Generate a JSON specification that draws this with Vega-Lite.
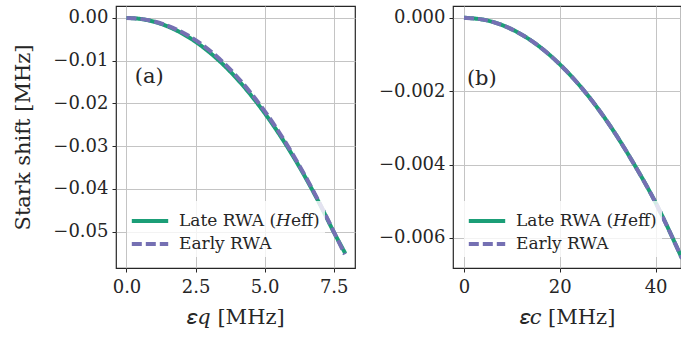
{
  "$schema": "https://vega.github.io/schema/vega-lite/v6.json",
  "padding": {"left": 12, "top": 5, "right": 0, "bottom": 0},
  "background": "white",
  "config": {
    "font": "DejaVu Serif",
    "view": {"stroke": "#262626", "strokeWidth": 1.2},
    "axis": {
      "grid": true, "gridColor": "#c4c4c4", "gridWidth": 1,
      "labelFont": "DejaVu Serif", "labelFontSize": 18, "labelColor": "#262626",
      "titleFont": "DejaVu Serif", "titleFontSize": 21, "titleFontWeight": "normal", "titleColor": "#262626",
      "tickColor": "#262626", "tickSize": 4, "domain": false, "labelPadding": 4
    },
    "axisX": {"titlePadding": 10, "labelPadding": 6},
    "axisY": {"titlePadding": 19},
    "legend": {
      "labelFont": "DejaVu Serif", "labelFontSize": 17, "labelColor": "#262626",
      "symbolType": "M-1.4,0H1.4", "symbolStrokeWidth": 4, "symbolSize": 676, "symbolOffset": 3,
      "fillColor": "rgba(255,255,255,0.8)", "padding": 5, "rowPadding": 0,
      "labelOffset": 14, "title": null
    }
  },
  "spacing": 21,
  "resolve": {"legend": {"color": "independent", "strokeDash": "independent"}},
  "hconcat": [
    {
      "width": 239, "height": 262,
      "data": {"values": [
        {"x": 0, "y": 0, "s": "Late RWA (𝐻eff)"},
        {"x": 0.5, "y": -0.00022, "s": "Late RWA (𝐻eff)"},
        {"x": 1, "y": -0.00089, "s": "Late RWA (𝐻eff)"},
        {"x": 1.5, "y": -0.002, "s": "Late RWA (𝐻eff)"},
        {"x": 2, "y": -0.00356, "s": "Late RWA (𝐻eff)"},
        {"x": 2.5, "y": -0.00556, "s": "Late RWA (𝐻eff)"},
        {"x": 3, "y": -0.00801, "s": "Late RWA (𝐻eff)"},
        {"x": 3.5, "y": -0.0109, "s": "Late RWA (𝐻eff)"},
        {"x": 4, "y": -0.01424, "s": "Late RWA (𝐻eff)"},
        {"x": 4.5, "y": -0.01802, "s": "Late RWA (𝐻eff)"},
        {"x": 5, "y": -0.02225, "s": "Late RWA (𝐻eff)"},
        {"x": 5.5, "y": -0.02692, "s": "Late RWA (𝐻eff)"},
        {"x": 6, "y": -0.03204, "s": "Late RWA (𝐻eff)"},
        {"x": 6.5, "y": -0.0376, "s": "Late RWA (𝐻eff)"},
        {"x": 7, "y": -0.04361, "s": "Late RWA (𝐻eff)"},
        {"x": 7.5, "y": -0.05006, "s": "Late RWA (𝐻eff)"},
        {"x": 7.92, "y": -0.0551, "s": "Late RWA (𝐻eff)"},
        {"x": 0, "y": 0, "s": "Early RWA"},
        {"x": 0.5, "y": -0.00021, "s": "Early RWA"},
        {"x": 1, "y": -0.00082, "s": "Early RWA"},
        {"x": 1.5, "y": -0.00185, "s": "Early RWA"},
        {"x": 2, "y": -0.0033, "s": "Early RWA"},
        {"x": 2.5, "y": -0.00518, "s": "Early RWA"},
        {"x": 3, "y": -0.00755, "s": "Early RWA"},
        {"x": 3.5, "y": -0.0104, "s": "Early RWA"},
        {"x": 4, "y": -0.01375, "s": "Early RWA"},
        {"x": 4.5, "y": -0.01755, "s": "Early RWA"},
        {"x": 5, "y": -0.0218, "s": "Early RWA"},
        {"x": 5.5, "y": -0.0265, "s": "Early RWA"},
        {"x": 6, "y": -0.0317, "s": "Early RWA"},
        {"x": 6.5, "y": -0.03735, "s": "Early RWA"},
        {"x": 7, "y": -0.04345, "s": "Early RWA"},
        {"x": 7.5, "y": -0.05, "s": "Early RWA"},
        {"x": 7.9, "y": -0.0553, "s": "Early RWA"}
      ]},
      "layer": [
        {
          "mark": {"type": "line", "strokeWidth": 4, "clip": true, "interpolate": "monotone"},
          "encoding": {
            "x": {"field": "x", "type": "quantitative", "title": "𝜀𝑞 [MHz]",
                  "scale": {"domain": [-0.38, 8.27], "nice": false, "zero": false},
                  "axis": {"values": [0, 2.5, 5, 7.5], "format": ".1f"}},
            "y": {"field": "y", "type": "quantitative", "title": "Stark shift [MHz]",
                  "scale": {"domain": [-0.0585, 0.0028], "nice": false, "zero": false},
                  "axis": {"values": [0, -0.01, -0.02, -0.03, -0.04, -0.05], "format": ".2f"}},
            "color": {"field": "s", "type": "nominal",
                      "scale": {"domain": ["Late RWA (𝐻eff)", "Early RWA"], "range": ["#1b9e77", "#7570b3"]},
                      "legend": {"orient": "bottom-left", "offset": 11}},
            "strokeDash": {"field": "s", "type": "nominal",
                      "scale": {"domain": ["Late RWA (𝐻eff)", "Early RWA"], "range": [[1, 0], [10, 4]]},
                      "legend": {"orient": "bottom-left", "offset": 11}},
            "order": {"field": "x", "type": "quantitative"}
          }
        },
        {
          "data": {"values": [{"x": 0.3, "y": -0.0137, "t": "(a)"}]},
          "mark": {"type": "text", "align": "left", "baseline": "middle", "fontSize": 21, "font": "DejaVu Serif", "color": "#262626"},
          "encoding": {
            "x": {"field": "x", "type": "quantitative"},
            "y": {"field": "y", "type": "quantitative"},
            "text": {"field": "t"}
          }
        }
      ]
    },
    {
      "width": 228, "height": 262,
      "data": {"values": [
        {"x": 0, "y": 0, "s": "Late RWA (𝐻eff)"},
        {"x": 5, "y": -0.000079, "s": "Late RWA (𝐻eff)"},
        {"x": 10, "y": -0.000317, "s": "Late RWA (𝐻eff)"},
        {"x": 15, "y": -0.000713, "s": "Late RWA (𝐻eff)"},
        {"x": 20, "y": -0.00127, "s": "Late RWA (𝐻eff)"},
        {"x": 25, "y": -0.00198, "s": "Late RWA (𝐻eff)"},
        {"x": 30, "y": -0.00285, "s": "Late RWA (𝐻eff)"},
        {"x": 35, "y": -0.00388, "s": "Late RWA (𝐻eff)"},
        {"x": 40, "y": -0.00504, "s": "Late RWA (𝐻eff)"},
        {"x": 45.5, "y": -0.00656, "s": "Late RWA (𝐻eff)"},
        {"x": 0, "y": 0, "s": "Early RWA"},
        {"x": 5, "y": -0.000079, "s": "Early RWA"},
        {"x": 10, "y": -0.000317, "s": "Early RWA"},
        {"x": 15, "y": -0.000713, "s": "Early RWA"},
        {"x": 20, "y": -0.00127, "s": "Early RWA"},
        {"x": 25, "y": -0.00198, "s": "Early RWA"},
        {"x": 30, "y": -0.00285, "s": "Early RWA"},
        {"x": 35, "y": -0.00388, "s": "Early RWA"},
        {"x": 40, "y": -0.00504, "s": "Early RWA"},
        {"x": 45.5, "y": -0.00656, "s": "Early RWA"}
      ]},
      "layer": [
        {
          "mark": {"type": "line", "strokeWidth": 4, "clip": true, "interpolate": "monotone"},
          "encoding": {
            "x": {"field": "x", "type": "quantitative", "title": "𝜀𝑐 [MHz]",
                  "scale": {"domain": [-2.3, 45.3], "nice": false, "zero": false},
                  "axis": {"values": [0, 20, 40], "format": "d"}},
            "y": {"field": "y", "type": "quantitative", "title": null,
                  "scale": {"domain": [-0.00682, 0.00032], "nice": false, "zero": false},
                  "axis": {"values": [0, -0.002, -0.004, -0.006], "format": ".3f"}},
            "color": {"field": "s", "type": "nominal",
                      "scale": {"domain": ["Late RWA (𝐻eff)", "Early RWA"], "range": ["#1b9e77", "#7570b3"]},
                      "legend": {"orient": "bottom-left", "offset": 11}},
            "strokeDash": {"field": "s", "type": "nominal",
                      "scale": {"domain": ["Late RWA (𝐻eff)", "Early RWA"], "range": [[1, 0], [10, 4]]},
                      "legend": {"orient": "bottom-left", "offset": 11}},
            "order": {"field": "x", "type": "quantitative"}
          }
        },
        {
          "data": {"values": [{"x": 0.6, "y": -0.00167, "t": "(b)"}]},
          "mark": {"type": "text", "align": "left", "baseline": "middle", "fontSize": 21, "font": "DejaVu Serif", "color": "#262626"},
          "encoding": {
            "x": {"field": "x", "type": "quantitative"},
            "y": {"field": "y", "type": "quantitative"},
            "text": {"field": "t"}
          }
        }
      ]
    }
  ]
}
